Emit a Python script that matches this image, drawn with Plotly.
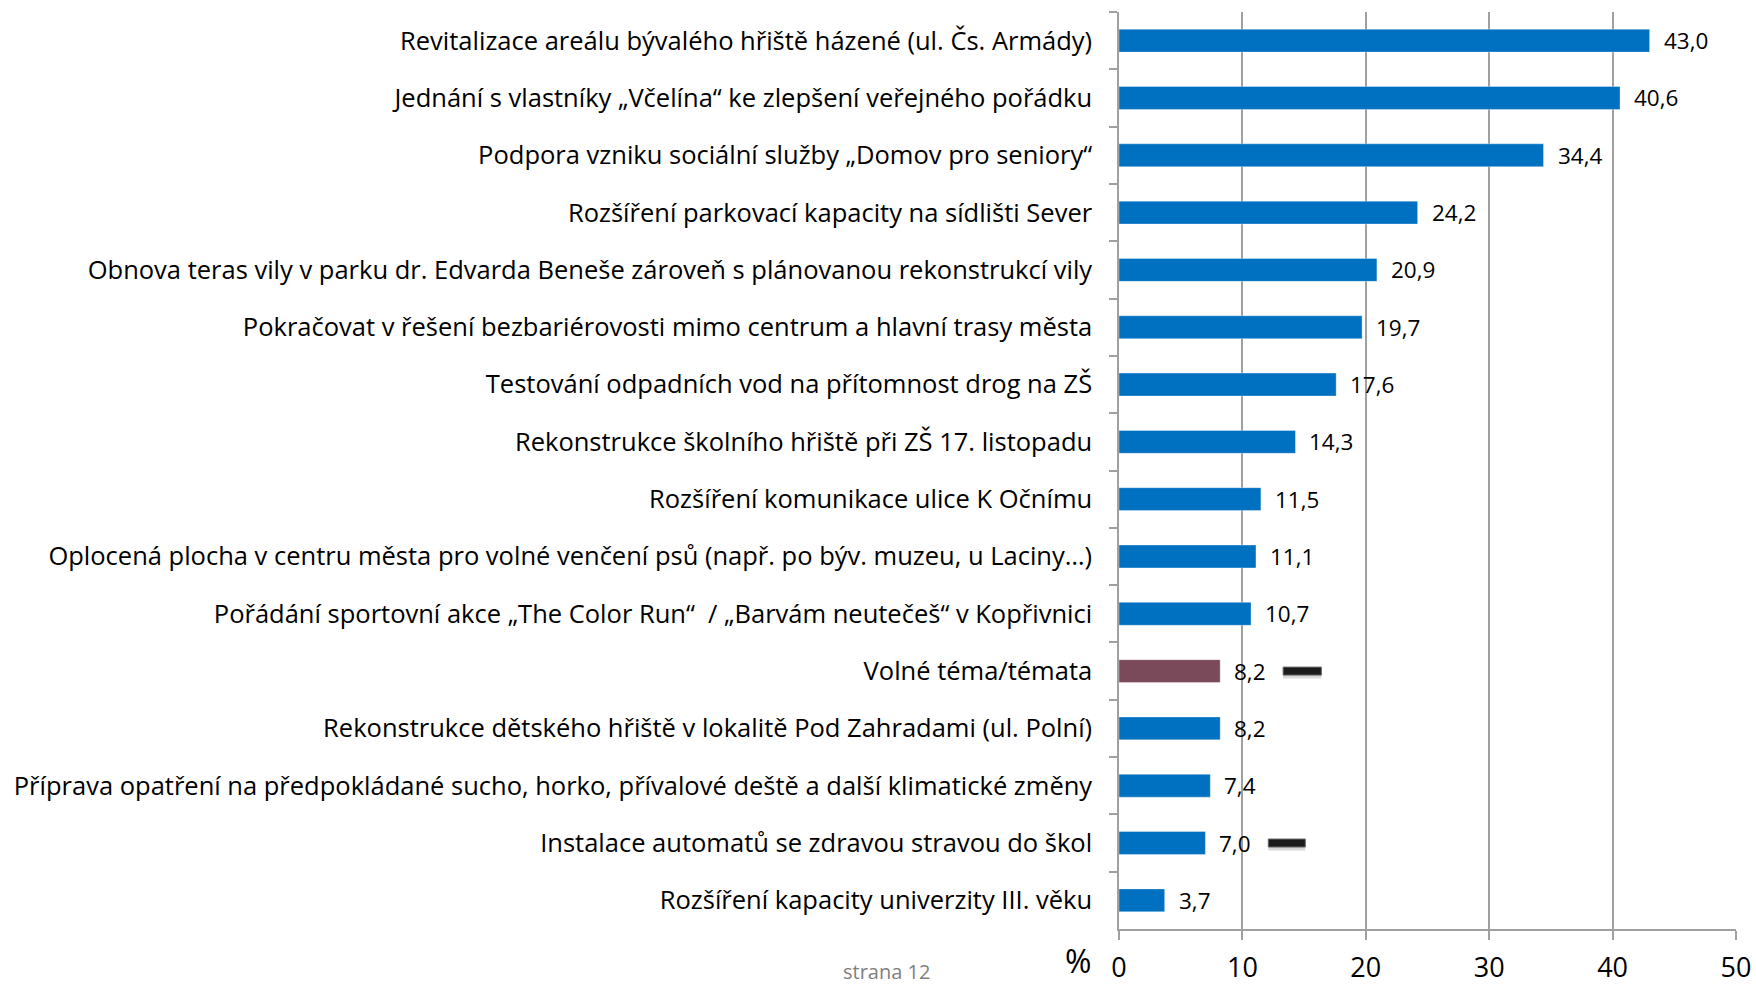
import plotly.graph_objects as go

categories = [
    "Revitalizace areálu bývalého hřiště házené (ul. Čs. Armády)",
    "Jednání s vlastníky „Včelína“ ke zlepšení veřejného pořádku",
    "Podpora vzniku sociální služby „Domov pro seniory“",
    "Rozšíření parkovací kapacity na sídlišti Sever",
    "Obnova teras vily v parku dr. Edvarda Beneše zároveň s plánovanou rekonstrukcí vily",
    "Pokračovat v řešení bezbariérovosti mimo centrum a hlavní trasy města",
    "Testování odpadních vod na přítomnost drog na ZŠ",
    "Rekonstrukce školního hřiště při ZŠ 17. listopadu",
    "Rozšíření komunikace ulice K Očnímu",
    "Oplocená plocha v centru města pro volné venčení psů (např. po býv. muzeu, u Laciny…)",
    "Pořádání sportovní akce „The Color Run“  / „Barvám neutečeš“ v Kopřivnici",
    "Volné téma/témata",
    "Rekonstrukce dětského hřiště v lokalitě Pod Zahradami (ul. Polní)",
    "Příprava opatření na předpokládané sucho, horko, přívalové deště a další klimatické změny",
    "Instalace automatů se zdravou stravou do škol",
    "Rozšíření kapacity univerzity III. věku",
]
values = [43.0, 40.6, 34.4, 24.2, 20.9, 19.7, 17.6, 14.3, 11.5, 11.1, 10.7, 8.2, 8.2, 7.4, 7.0, 3.7]
highlight = "Volné téma/témata"
# small dark dash marks next to some labels: (category, x start, x end)
dash_marks = [("Volné téma/témata", 13.3, 16.4),
              ("Instalace automatů se zdravou stravou do škol", 12.1, 15.1)]
x_ticks = [0, 10, 20, 30, 40, 50]

FONT = "Open Sans"
blue = "#0070C0"
maroon = "#7B4A5A"
colors = [maroon if c == highlight else blue for c in categories]

W, H = 1756, 987
L, R, T, B = 1119, 20, 12, 58

fig = go.Figure()
fig.add_trace(go.Bar(
    x=values, y=categories, orientation="h",
    marker=dict(color=colors, line=dict(color="rgba(255,255,255,0.35)", width=1)),
    width=0.4, hoverinfo="skip",
))

annotations = []
for c, v in zip(categories, values):
    annotations.append(dict(
        x=v, y=c, xref="x", yref="y", text=f"{v:.1f}".replace(".", ","),
        showarrow=False, xanchor="left", yanchor="middle", xshift=12, yshift=0,
        font=dict(family=FONT, size=22.5, color="#000000"),
    ))

shapes = []
for c, x0, x1 in dash_marks:
    idx = categories.index(c)
    shapes.append(dict(type="rect", xref="x", yref="y", x0=x0, x1=x1,
                       y0=idx - 0.02, y1=idx + 0.13, fillcolor="rgba(0,0,0,0.15)",
                       line=dict(width=0), layer="above"))
    shapes.append(dict(type="rect", xref="x", yref="y", x0=x0, x1=x1,
                       y0=idx - 0.07, y1=idx + 0.07, fillcolor="#1c1c1c",
                       line=dict(color="#6a6a6a", width=1), layer="above"))

pw, ph = W - L - R, H - T - B
def px_to_paper(x, y):
    return (x - L) / pw, (H - B - y) / ph

sx, sy = px_to_paper(886, 971)
annotations.append(dict(x=sx, y=sy, xref="paper", yref="paper", text="strana 12",
                        showarrow=False, xanchor="center", yanchor="middle",
                        font=dict(family=FONT, size=20, color="#808080")))
px_, py_ = px_to_paper(1078, 960)
annotations.append(dict(x=px_, y=py_, xref="paper", yref="paper", text="%",
                        showarrow=False, xanchor="center", yanchor="middle",
                        font=dict(family=FONT, size=32, color="#000000")))

fig.update_layout(
    width=W, height=H,
    margin=dict(l=L, r=R, t=T, b=B, autoexpand=False),
    paper_bgcolor="white", plot_bgcolor="white",
    showlegend=False,
    font=dict(family=FONT, color="#000000"),
    annotations=annotations,
    shapes=shapes,
    xaxis=dict(range=[0, 50], tickvals=x_ticks, ticktext=[str(t) for t in x_ticks],
               showgrid=True, gridcolor="#A0A0A0", gridwidth=1.5,
               showline=True, linecolor="#A0A0A0", linewidth=1.5,
               ticks="outside", ticklen=9, tickcolor="#A0A0A0", tickwidth=1.5,
               tickfont=dict(family=FONT, size=27, color="#000000"),
               ticklabelstandoff=5,
               zeroline=False, fixedrange=True),
    yaxis=dict(autorange="reversed", type="category",
               showline=True, linecolor="#A0A0A0", linewidth=1.5,
               ticks="outside", ticklen=8, tickcolor="#A0A0A0", tickwidth=1.5,
               tickson="boundaries", showgrid=False,
               tickfont=dict(family=FONT, size=25.5, color="#000000"),
               ticklabelstandoff=20, fixedrange=True),
)

fig.write_html("out.html", config={"displayModeBar": False},
               post_script="document.body.style.margin='0';document.body.style.overflow='hidden';")
